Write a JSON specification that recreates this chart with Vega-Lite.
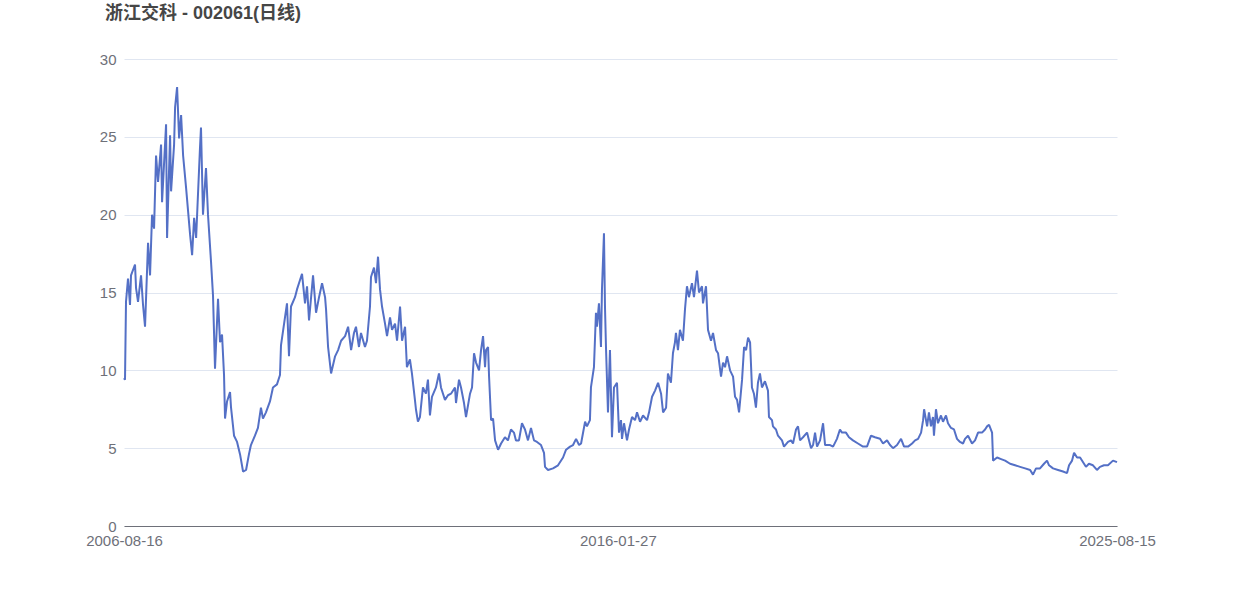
{
  "$schema": "https://vega.github.io/schema/vega-lite/v6.json",
  "width": 993,
  "height": 467,
  "autosize": {"type": "none"},
  "padding": {"left": 124, "top": 59, "right": 125, "bottom": 70},
  "background": "#ffffff",
  "title": {
    "text": "浙江交科 - 002061(日线)",
    "anchor": "start",
    "frame": "group",
    "orient": "top",
    "dx": -19,
    "offset": 29,
    "font": "Liberation Sans, Noto Sans CJK SC",
    "fontSize": 18,
    "fontWeight": "bold",
    "color": "#464646"
  },
  "config": {
    "view": {"stroke": null},
    "font": "Liberation Sans, Noto Sans CJK SC"
  },
  "data": {
    "values": [
      {"date": "2006-08-16", "close": 9.5},
      {"date": "2006-08-23", "close": 9.4},
      {"date": "2006-08-30", "close": 14.4},
      {"date": "2006-09-13", "close": 15.9},
      {"date": "2006-09-27", "close": 14.2},
      {"date": "2006-10-04", "close": 16.1},
      {"date": "2006-11-01", "close": 16.8},
      {"date": "2006-11-08", "close": 15.3},
      {"date": "2006-11-22", "close": 14.4},
      {"date": "2006-12-13", "close": 16.1},
      {"date": "2006-12-27", "close": 14.2},
      {"date": "2007-01-10", "close": 12.8},
      {"date": "2007-01-31", "close": 18.2},
      {"date": "2007-02-14", "close": 16.1},
      {"date": "2007-02-28", "close": 20.0},
      {"date": "2007-03-14", "close": 19.1},
      {"date": "2007-03-28", "close": 23.8},
      {"date": "2007-04-11", "close": 22.1},
      {"date": "2007-05-02", "close": 24.5},
      {"date": "2007-05-09", "close": 20.8},
      {"date": "2007-06-06", "close": 25.8},
      {"date": "2007-06-13", "close": 18.5},
      {"date": "2007-07-04", "close": 25.1},
      {"date": "2007-07-11", "close": 21.5},
      {"date": "2007-08-01", "close": 24.5},
      {"date": "2007-08-08", "close": 26.9},
      {"date": "2007-08-22", "close": 28.2},
      {"date": "2007-09-05", "close": 24.9},
      {"date": "2007-09-19", "close": 26.4},
      {"date": "2007-10-03", "close": 23.8},
      {"date": "2007-10-24", "close": 21.7},
      {"date": "2007-11-21", "close": 18.7},
      {"date": "2007-12-05", "close": 17.4},
      {"date": "2007-12-19", "close": 19.8},
      {"date": "2008-01-02", "close": 18.5},
      {"date": "2008-01-29", "close": 24.3},
      {"date": "2008-02-05", "close": 25.6},
      {"date": "2008-02-19", "close": 20.0},
      {"date": "2008-03-11", "close": 23.0},
      {"date": "2008-03-25", "close": 20.0},
      {"date": "2008-04-15", "close": 17.0},
      {"date": "2008-04-29", "close": 14.8},
      {"date": "2008-05-13", "close": 10.1},
      {"date": "2008-06-03", "close": 14.6},
      {"date": "2008-06-17", "close": 11.8},
      {"date": "2008-07-01", "close": 12.3},
      {"date": "2008-07-15", "close": 9.7},
      {"date": "2008-07-22", "close": 6.9},
      {"date": "2008-08-05", "close": 8.0},
      {"date": "2008-08-26", "close": 8.6},
      {"date": "2008-09-02", "close": 7.6},
      {"date": "2008-09-23", "close": 5.8},
      {"date": "2008-10-14", "close": 5.4},
      {"date": "2008-11-04", "close": 4.6},
      {"date": "2008-11-25", "close": 3.5},
      {"date": "2008-12-16", "close": 3.6},
      {"date": "2009-01-05", "close": 4.6},
      {"date": "2009-01-19", "close": 5.2},
      {"date": "2009-02-16", "close": 5.8},
      {"date": "2009-03-09", "close": 6.3},
      {"date": "2009-03-30", "close": 7.6},
      {"date": "2009-04-13", "close": 6.9},
      {"date": "2009-05-04", "close": 7.3},
      {"date": "2009-06-01", "close": 8.0},
      {"date": "2009-06-22", "close": 8.9},
      {"date": "2009-07-20", "close": 9.1},
      {"date": "2009-08-10", "close": 9.7},
      {"date": "2009-08-17", "close": 11.6},
      {"date": "2009-09-14", "close": 13.4},
      {"date": "2009-09-28", "close": 14.3},
      {"date": "2009-10-12", "close": 10.9},
      {"date": "2009-10-26", "close": 14.1},
      {"date": "2009-11-23", "close": 14.7},
      {"date": "2009-12-07", "close": 15.2},
      {"date": "2009-12-28", "close": 15.8},
      {"date": "2010-01-11", "close": 16.2},
      {"date": "2010-02-01", "close": 14.3},
      {"date": "2010-02-15", "close": 15.4},
      {"date": "2010-03-01", "close": 13.2},
      {"date": "2010-03-29", "close": 16.1},
      {"date": "2010-04-19", "close": 13.7},
      {"date": "2010-05-10", "close": 14.7},
      {"date": "2010-05-31", "close": 15.6},
      {"date": "2010-06-21", "close": 14.7},
      {"date": "2010-06-28", "close": 13.9},
      {"date": "2010-07-12", "close": 11.5},
      {"date": "2010-08-02", "close": 9.8},
      {"date": "2010-08-30", "close": 10.9},
      {"date": "2010-09-20", "close": 11.3},
      {"date": "2010-10-11", "close": 11.9},
      {"date": "2010-11-08", "close": 12.2},
      {"date": "2010-11-29", "close": 12.8},
      {"date": "2010-12-20", "close": 11.3},
      {"date": "2011-01-09", "close": 12.4},
      {"date": "2011-01-23", "close": 12.8},
      {"date": "2011-02-13", "close": 11.5},
      {"date": "2011-02-27", "close": 12.4},
      {"date": "2011-03-27", "close": 11.5},
      {"date": "2011-04-10", "close": 11.9},
      {"date": "2011-05-01", "close": 14.1},
      {"date": "2011-05-08", "close": 16.0},
      {"date": "2011-05-29", "close": 16.6},
      {"date": "2011-06-12", "close": 15.6},
      {"date": "2011-06-26", "close": 17.3},
      {"date": "2011-07-10", "close": 15.2},
      {"date": "2011-07-24", "close": 14.1},
      {"date": "2011-08-14", "close": 13.0},
      {"date": "2011-08-28", "close": 12.2},
      {"date": "2011-09-18", "close": 13.4},
      {"date": "2011-10-02", "close": 12.6},
      {"date": "2011-10-23", "close": 13.0},
      {"date": "2011-11-06", "close": 11.9},
      {"date": "2011-11-27", "close": 14.1},
      {"date": "2011-12-11", "close": 11.9},
      {"date": "2012-01-01", "close": 12.8},
      {"date": "2012-01-14", "close": 10.2},
      {"date": "2012-02-04", "close": 10.7},
      {"date": "2012-02-18", "close": 9.8},
      {"date": "2012-03-10", "close": 8.1},
      {"date": "2012-03-17", "close": 7.5},
      {"date": "2012-03-31", "close": 6.7},
      {"date": "2012-04-14", "close": 7.0},
      {"date": "2012-05-05", "close": 8.9},
      {"date": "2012-05-26", "close": 8.5},
      {"date": "2012-06-09", "close": 9.4},
      {"date": "2012-06-23", "close": 7.1},
      {"date": "2012-07-07", "close": 8.3},
      {"date": "2012-08-04", "close": 8.9},
      {"date": "2012-08-25", "close": 9.8},
      {"date": "2012-09-08", "close": 8.9},
      {"date": "2012-10-06", "close": 8.1},
      {"date": "2012-10-27", "close": 8.4},
      {"date": "2012-11-17", "close": 8.5},
      {"date": "2012-12-15", "close": 8.9},
      {"date": "2012-12-22", "close": 7.9},
      {"date": "2013-01-12", "close": 9.4},
      {"date": "2013-01-26", "close": 8.9},
      {"date": "2013-02-16", "close": 7.9},
      {"date": "2013-03-02", "close": 7.0},
      {"date": "2013-03-30", "close": 8.5},
      {"date": "2013-04-13", "close": 8.9},
      {"date": "2013-04-27", "close": 11.1},
      {"date": "2013-05-11", "close": 10.5},
      {"date": "2013-06-01", "close": 10.0},
      {"date": "2013-06-15", "close": 11.3},
      {"date": "2013-06-29", "close": 12.2},
      {"date": "2013-07-13", "close": 10.2},
      {"date": "2013-07-20", "close": 11.3},
      {"date": "2013-08-03", "close": 11.5},
      {"date": "2013-08-10", "close": 9.6},
      {"date": "2013-08-24", "close": 6.8},
      {"date": "2013-09-07", "close": 6.9},
      {"date": "2013-09-21", "close": 5.5},
      {"date": "2013-10-12", "close": 4.9},
      {"date": "2013-11-02", "close": 5.3},
      {"date": "2013-11-29", "close": 5.7},
      {"date": "2013-12-20", "close": 5.5},
      {"date": "2014-01-10", "close": 6.2},
      {"date": "2014-01-31", "close": 6.0},
      {"date": "2014-02-14", "close": 5.5},
      {"date": "2014-03-07", "close": 5.5},
      {"date": "2014-03-28", "close": 6.6},
      {"date": "2014-04-18", "close": 6.2},
      {"date": "2014-05-09", "close": 5.5},
      {"date": "2014-05-30", "close": 6.3},
      {"date": "2014-06-20", "close": 5.5},
      {"date": "2014-07-11", "close": 5.4},
      {"date": "2014-08-08", "close": 5.2},
      {"date": "2014-08-29", "close": 4.7},
      {"date": "2014-09-05", "close": 3.8},
      {"date": "2014-09-26", "close": 3.6},
      {"date": "2014-10-31", "close": 3.7},
      {"date": "2014-12-05", "close": 3.9},
      {"date": "2015-01-09", "close": 4.4},
      {"date": "2015-01-30", "close": 4.9},
      {"date": "2015-02-27", "close": 5.1},
      {"date": "2015-03-20", "close": 5.2},
      {"date": "2015-04-10", "close": 5.6},
      {"date": "2015-05-01", "close": 5.2},
      {"date": "2015-05-15", "close": 5.3},
      {"date": "2015-06-12", "close": 6.7},
      {"date": "2015-06-25", "close": 6.4},
      {"date": "2015-07-16", "close": 6.8},
      {"date": "2015-07-23", "close": 8.9},
      {"date": "2015-08-13", "close": 10.2},
      {"date": "2015-08-27", "close": 13.7},
      {"date": "2015-09-03", "close": 12.8},
      {"date": "2015-09-17", "close": 14.3},
      {"date": "2015-10-01", "close": 11.5},
      {"date": "2015-10-08", "close": 15.2},
      {"date": "2015-10-22", "close": 18.8},
      {"date": "2015-10-29", "close": 14.1},
      {"date": "2015-11-05", "close": 11.5},
      {"date": "2015-11-19", "close": 7.3},
      {"date": "2015-12-03", "close": 11.3},
      {"date": "2015-12-17", "close": 5.7},
      {"date": "2015-12-31", "close": 8.9},
      {"date": "2016-01-21", "close": 9.2},
      {"date": "2016-02-04", "close": 6.0},
      {"date": "2016-02-18", "close": 6.8},
      {"date": "2016-02-25", "close": 5.6},
      {"date": "2016-03-10", "close": 6.6},
      {"date": "2016-03-31", "close": 5.5},
      {"date": "2016-04-14", "close": 6.2},
      {"date": "2016-05-05", "close": 7.0},
      {"date": "2016-05-26", "close": 6.8},
      {"date": "2016-06-09", "close": 7.3},
      {"date": "2016-06-30", "close": 6.7},
      {"date": "2016-07-21", "close": 7.1},
      {"date": "2016-08-18", "close": 6.8},
      {"date": "2016-09-01", "close": 7.3},
      {"date": "2016-09-22", "close": 8.3},
      {"date": "2016-10-13", "close": 8.7},
      {"date": "2016-11-03", "close": 9.2},
      {"date": "2016-11-24", "close": 8.5},
      {"date": "2016-12-08", "close": 7.3},
      {"date": "2016-12-29", "close": 7.6},
      {"date": "2017-01-11", "close": 9.8},
      {"date": "2017-02-01", "close": 9.2},
      {"date": "2017-02-15", "close": 11.1},
      {"date": "2017-03-01", "close": 11.8},
      {"date": "2017-03-08", "close": 12.4},
      {"date": "2017-03-22", "close": 11.3},
      {"date": "2017-04-05", "close": 12.6},
      {"date": "2017-04-26", "close": 11.9},
      {"date": "2017-05-10", "close": 13.9},
      {"date": "2017-05-24", "close": 15.4},
      {"date": "2017-06-07", "close": 14.7},
      {"date": "2017-06-28", "close": 15.6},
      {"date": "2017-07-12", "close": 14.7},
      {"date": "2017-08-02", "close": 16.4},
      {"date": "2017-08-16", "close": 15.0},
      {"date": "2017-09-06", "close": 15.4},
      {"date": "2017-09-13", "close": 14.3},
      {"date": "2017-10-04", "close": 15.4},
      {"date": "2017-10-18", "close": 12.6},
      {"date": "2017-11-08", "close": 11.9},
      {"date": "2017-11-22", "close": 12.4},
      {"date": "2017-12-13", "close": 11.3},
      {"date": "2017-12-27", "close": 11.1},
      {"date": "2018-01-17", "close": 9.6},
      {"date": "2018-01-31", "close": 10.5},
      {"date": "2018-02-14", "close": 10.2},
      {"date": "2018-02-28", "close": 10.9},
      {"date": "2018-03-21", "close": 10.0},
      {"date": "2018-04-11", "close": 9.6},
      {"date": "2018-04-25", "close": 8.3},
      {"date": "2018-05-09", "close": 8.1},
      {"date": "2018-05-23", "close": 7.3},
      {"date": "2018-06-13", "close": 9.4},
      {"date": "2018-06-27", "close": 11.5},
      {"date": "2018-07-11", "close": 11.3},
      {"date": "2018-07-25", "close": 12.1},
      {"date": "2018-08-08", "close": 11.8},
      {"date": "2018-08-21", "close": 8.9},
      {"date": "2018-09-04", "close": 8.5},
      {"date": "2018-09-18", "close": 7.6},
      {"date": "2018-10-02", "close": 9.2},
      {"date": "2018-10-16", "close": 9.8},
      {"date": "2018-10-30", "close": 8.9},
      {"date": "2018-11-20", "close": 9.3},
      {"date": "2018-12-11", "close": 8.7},
      {"date": "2018-12-18", "close": 7.0},
      {"date": "2019-01-08", "close": 6.8},
      {"date": "2019-01-15", "close": 6.4},
      {"date": "2019-02-05", "close": 6.2},
      {"date": "2019-02-19", "close": 5.8},
      {"date": "2019-03-19", "close": 5.5},
      {"date": "2019-04-02", "close": 5.1},
      {"date": "2019-04-30", "close": 5.4},
      {"date": "2019-05-21", "close": 5.5},
      {"date": "2019-06-04", "close": 5.3},
      {"date": "2019-06-25", "close": 6.2},
      {"date": "2019-07-09", "close": 6.4},
      {"date": "2019-07-23", "close": 5.5},
      {"date": "2019-08-13", "close": 5.7},
      {"date": "2019-09-10", "close": 6.0},
      {"date": "2019-09-24", "close": 5.5},
      {"date": "2019-10-08", "close": 5.0},
      {"date": "2019-10-22", "close": 5.2},
      {"date": "2019-11-05", "close": 6.0},
      {"date": "2019-11-19", "close": 5.1},
      {"date": "2019-12-10", "close": 5.5},
      {"date": "2019-12-31", "close": 6.6},
      {"date": "2020-01-14", "close": 5.2},
      {"date": "2020-02-18", "close": 5.2},
      {"date": "2020-03-10", "close": 5.1},
      {"date": "2020-04-06", "close": 5.6},
      {"date": "2020-04-27", "close": 6.2},
      {"date": "2020-05-11", "close": 6.0},
      {"date": "2020-06-08", "close": 6.0},
      {"date": "2020-06-29", "close": 5.7},
      {"date": "2020-07-27", "close": 5.5},
      {"date": "2020-08-31", "close": 5.3},
      {"date": "2020-10-05", "close": 5.1},
      {"date": "2020-11-02", "close": 5.1},
      {"date": "2020-11-30", "close": 5.8},
      {"date": "2020-12-28", "close": 5.7},
      {"date": "2021-02-01", "close": 5.6},
      {"date": "2021-02-22", "close": 5.3},
      {"date": "2021-03-22", "close": 5.5},
      {"date": "2021-04-12", "close": 5.2},
      {"date": "2021-05-03", "close": 5.0},
      {"date": "2021-05-31", "close": 5.2},
      {"date": "2021-06-28", "close": 5.6},
      {"date": "2021-07-19", "close": 5.1},
      {"date": "2021-08-16", "close": 5.1},
      {"date": "2021-09-13", "close": 5.3},
      {"date": "2021-10-04", "close": 5.5},
      {"date": "2021-10-25", "close": 5.6},
      {"date": "2021-11-15", "close": 6.0},
      {"date": "2021-11-29", "close": 6.8},
      {"date": "2021-12-06", "close": 7.5},
      {"date": "2021-12-27", "close": 6.4},
      {"date": "2022-01-09", "close": 7.3},
      {"date": "2022-01-23", "close": 6.4},
      {"date": "2022-02-06", "close": 7.0},
      {"date": "2022-02-13", "close": 5.8},
      {"date": "2022-02-27", "close": 7.5},
      {"date": "2022-03-13", "close": 6.6},
      {"date": "2022-04-03", "close": 7.1},
      {"date": "2022-04-17", "close": 6.7},
      {"date": "2022-05-08", "close": 7.1},
      {"date": "2022-05-22", "close": 6.6},
      {"date": "2022-06-12", "close": 6.3},
      {"date": "2022-07-03", "close": 6.2},
      {"date": "2022-07-24", "close": 5.6},
      {"date": "2022-08-14", "close": 5.4},
      {"date": "2022-09-04", "close": 5.3},
      {"date": "2022-09-18", "close": 5.6},
      {"date": "2022-10-09", "close": 5.8},
      {"date": "2022-11-06", "close": 5.3},
      {"date": "2022-11-27", "close": 5.5},
      {"date": "2022-12-18", "close": 6.0},
      {"date": "2023-01-15", "close": 6.0},
      {"date": "2023-02-05", "close": 6.2},
      {"date": "2023-02-19", "close": 6.4},
      {"date": "2023-03-05", "close": 6.5},
      {"date": "2023-03-26", "close": 6.0},
      {"date": "2023-04-02", "close": 4.2},
      {"date": "2023-04-30", "close": 4.4},
      {"date": "2023-05-28", "close": 4.3},
      {"date": "2023-06-25", "close": 4.2},
      {"date": "2023-07-30", "close": 4.0},
      {"date": "2023-09-03", "close": 3.9},
      {"date": "2023-10-08", "close": 3.8},
      {"date": "2023-11-12", "close": 3.7},
      {"date": "2023-12-17", "close": 3.6},
      {"date": "2024-01-06", "close": 3.3},
      {"date": "2024-01-27", "close": 3.7},
      {"date": "2024-02-24", "close": 3.7},
      {"date": "2024-03-23", "close": 4.0},
      {"date": "2024-04-13", "close": 4.2},
      {"date": "2024-04-27", "close": 3.9},
      {"date": "2024-05-25", "close": 3.7},
      {"date": "2024-06-29", "close": 3.6},
      {"date": "2024-08-03", "close": 3.5},
      {"date": "2024-08-31", "close": 3.4},
      {"date": "2024-09-14", "close": 3.9},
      {"date": "2024-10-05", "close": 4.2},
      {"date": "2024-10-19", "close": 4.7},
      {"date": "2024-11-09", "close": 4.4},
      {"date": "2024-11-30", "close": 4.4},
      {"date": "2024-12-21", "close": 4.1},
      {"date": "2025-01-10", "close": 3.8},
      {"date": "2025-01-31", "close": 4.0},
      {"date": "2025-02-28", "close": 3.9},
      {"date": "2025-03-28", "close": 3.6},
      {"date": "2025-04-18", "close": 3.8},
      {"date": "2025-05-16", "close": 3.9},
      {"date": "2025-06-13", "close": 3.9},
      {"date": "2025-07-18", "close": 4.2},
      {"date": "2025-08-15", "close": 4.1}
    ]
  },
  "mark": {"type": "line", "color": "#5470C6", "strokeWidth": 2, "strokeJoin": "bevel"},
  "encoding": {
    "x": {
      "field": "date",
      "type": "temporal",
      "scale": {
        "type": "utc",
        "nice": false,
        "domain": [
          {"year": 2006, "month": 8, "date": 16, "utc": true},
          {"year": 2025, "month": 8, "date": 15, "utc": true}
        ]
      },
      "axis": {
        "title": null,
        "values": [
          {"year": 2006, "month": 8, "date": 16, "utc": true},
          {"year": 2016, "month": 1, "date": 27, "utc": true},
          {"year": 2025, "month": 8, "date": 15, "utc": true}
        ],
        "labelExpr": "utcFormat(datum.value, '%Y-%m-%d')",
        "grid": false,
        "ticks": false,
        "domain": true,
        "domainColor": "#6E7079",
        "domainWidth": 1,
        "labelColor": "#6E7079",
        "labelFontSize": 15,
        "labelPadding": 7,
        "labelFlush": false,
        "labelOverlap": false,
        "labelBound": false
      }
    },
    "y": {
      "field": "close",
      "type": "quantitative",
      "scale": {"domain": [0, 30], "nice": false, "zero": true},
      "axis": {
        "title": null,
        "values": [0, 5, 10, 15, 20, 25, 30],
        "grid": true,
        "gridColor": "#E0E6F1",
        "gridWidth": 1,
        "domain": false,
        "ticks": false,
        "labelColor": "#6E7079",
        "labelFontSize": 15,
        "labelPadding": 8
      }
    }
  }
}
